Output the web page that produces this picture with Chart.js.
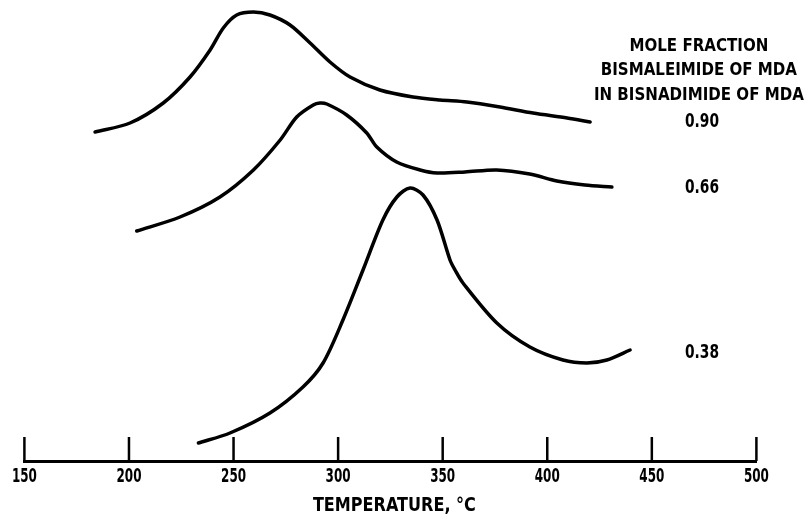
<!DOCTYPE html>
<html>
<head>
<meta charset="utf-8">
<script src="https://cdn.jsdelivr.net/npm/chart.js@4.4.0/dist/chart.umd.min.js"></script>
<style>
	html, body { margin: 0; padding: 0; background: #fff; }
	#wrap { width: 810px; height: 517px; }
</style>
</head>
<body>
<div id="wrap"><canvas id="chart-dsc"></canvas></div>
<script>
// Temperature (deg C) and relative signal
const TEMP_090 = [183.8, 200.5, 216.4, 229.2, 238.8, 245.1, 251.5, 259.5, 267.4, 277.0, 286.6, 296.1, 305.7, 320.0, 335.8, 348.7, 361.6, 377.4, 393.2, 409.5, 420.5];
const SIG_090 = [329, 338, 358, 384, 411, 433, 446, 449, 446, 436, 418, 399, 384, 371, 364, 361, 359, 354, 348, 343, 339];

const TEMP_066 = [203.7, 224.4, 243.5, 259.5, 272.3, 280.2, 288.1, 291.3, 294.6, 304.1, 313.7, 318.5, 328.0, 339.2, 347.3, 360.7, 375.8, 391.6, 404.6, 418.0, 430.9];
const SIG_066 = [230, 244, 264, 291, 321, 344, 356, 358, 357, 346, 328, 314, 299, 291, 288, 289, 291, 287, 280, 276, 274];

const TEMP_038 = [233.2, 248.3, 267.4, 283.2, 292.8, 302.3, 311.9, 321.4, 328.1, 334.4, 340.6, 347.3, 353.5, 355.9, 359.7, 375.9, 391.7, 407.5, 419.0, 428.5, 439.6];
const SIG_038 = [18, 28, 48, 74, 98, 141, 191, 241, 264, 273, 266, 241, 201, 191, 178, 138, 114, 101, 98, 101, 111];

const SERIES_LABELS = ["0.90", "0.66", "0.38"];
const LABEL_LEVELS = [339, 273, 108];
const LEGEND_TITLE = ["MOLE FRACTION", "BISMALEIMIDE OF MDA", "IN BISNADIMIDE OF MDA"];
const X_TICKS = [150, 200, 250, 300, 350, 400, 450, 500];
const X_TITLE = "TEMPERATURE, °C";

const FONT = '"DejaVu Sans", sans-serif';

const toPoints = (xs, ys) => xs.map((x, i) => ({ x: x, y: ys[i] }));

const lineStyle = {
	borderColor: "#000",
	borderWidth: 3.5,
	pointRadius: 0,
	tension: 0.3,
	fill: false,
	borderCapStyle: "round",
};

// The lettering is a narrow stencil face; squeeze DejaVu sideways to match
const drawNarrow = (ctx, text, cx, cy, squeeze) => {
	ctx.save();
	ctx.translate(cx, cy);
	ctx.scale(squeeze, 1);
	ctx.fillText(text, 0, 0);
	ctx.restore();
};

// Upward tick marks, axis lettering, curve labels and the legend header
const annotations = {
	id: "annotations",
	afterDraw(chart) {
		const { ctx, scales } = chart;
		const x = scales.x;
		const y = scales.y;
		ctx.save();
		ctx.strokeStyle = "#000";
		ctx.lineWidth = 2.5;
		x.ticks.forEach((t) => {
			const px = x.getPixelForValue(t.value);
			ctx.beginPath();
			ctx.moveTo(px, x.top);
			ctx.lineTo(px, x.top - 24);
			ctx.stroke();
		});

		ctx.fillStyle = "#000";
		ctx.textAlign = "center";
		ctx.textBaseline = "middle";

		// tick labels
		ctx.font = "bold 20px " + FONT;
		const tickSqueeze = 25 / ctx.measureText("150").width;
		x.ticks.forEach((t) => {
			drawNarrow(ctx, String(t.value), x.getPixelForValue(t.value), x.top + 16, tickSqueeze);
		});

		// axis title
		ctx.font = "bold 20px " + FONT;
		const titleSqueeze = 163 / ctx.measureText(X_TITLE).width;
		drawNarrow(ctx, X_TITLE, (x.left + x.right) / 2 + 4, x.top + 45, titleSqueeze);

		// legend header
		ctx.font = "bold 18px " + FONT;
		const headSqueeze = 210 / ctx.measureText(LEGEND_TITLE[2]).width;
		const hx = x.getPixelForValue(472.5);
		LEGEND_TITLE.forEach((line, i) => {
			drawNarrow(ctx, line, hx, 46 + i * 24.5, headSqueeze);
		});

		// curve labels
		ctx.font = "bold 20px " + FONT;
		const labelSqueeze = 34 / ctx.measureText("0.38").width;
		const lx = x.getPixelForValue(474);
		SERIES_LABELS.forEach((label, i) => {
			drawNarrow(ctx, label, lx, y.getPixelForValue(LABEL_LEVELS[i]), labelSqueeze);
		});
		ctx.restore();
	},
};

const CHART_DATA = {
	datasets: [
		{ label: SERIES_LABELS[0], data: toPoints(TEMP_090, SIG_090), ...lineStyle },
		{ label: SERIES_LABELS[1], data: toPoints(TEMP_066, SIG_066), ...lineStyle },
		{ label: SERIES_LABELS[2], data: toPoints(TEMP_038, SIG_038), ...lineStyle },
	],
};

const CHART_CONFIG = {
	type: "line",
	data: CHART_DATA,
	plugins: [annotations],
	options: {
		responsive: true,
		maintainAspectRatio: false,
		animation: false,
		devicePixelRatio: 1,
		layout: {
			padding: { left: 24.4, right: 53.6, top: 0, bottom: 0 },
		},
		plugins: {
			legend: { display: false },
			tooltip: { enabled: false },
		},
		scales: {
			x: {
				type: "linear",
				min: 150,
				max: 500,
				afterBuildTicks: (scale) => {
					scale.ticks = X_TICKS.map((v) => ({ value: v }));
				},
				afterFit: (scale) => {
					scale.height = 56;
				},
				grid: { display: false },
				border: { display: true, color: "#000", width: 3 },
				ticks: { display: false },
				title: { display: false, text: X_TITLE },
			},
			y: {
				display: false,
				min: 0,
				max: 461,
			},
		},
	},
};

new Chart(document.getElementById("chart-dsc"), CHART_CONFIG);
</script>
</body>
</html>
